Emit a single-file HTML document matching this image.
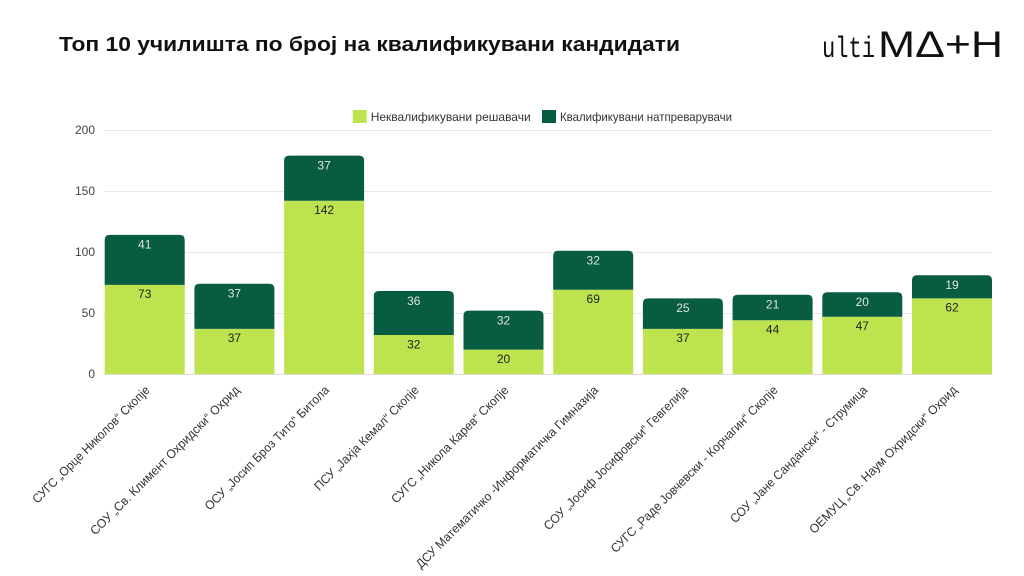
<!DOCTYPE html>
<html>
<head>
<meta charset="utf-8">
<style>
html,body{margin:0;padding:0;background:#fff;}
svg{display:block;}
text{font-family:"Liberation Sans","DejaVu Sans",sans-serif;}
</style>
</head>
<body>
<svg width="1024" height="576" viewBox="0 0 1024 576" xmlns="http://www.w3.org/2000/svg">
<rect width="1024" height="576" fill="#fff"/>
<!-- Title -->
<text x="59" y="51" font-size="20" font-weight="bold" fill="#111" textLength="621" lengthAdjust="spacingAndGlyphs">Топ 10 училишта по број на квалификувани кандидати</text>
<!-- Logo -->
<text x="822" y="57" font-size="30" fill="#111" textLength="53" lengthAdjust="spacingAndGlyphs" style="font-family:'Liberation Mono',monospace">ulti</text>
<text x="878" y="57" font-size="37.5" fill="#111" textLength="125" lengthAdjust="spacingAndGlyphs">MΔ+H</text>

<!-- Legend -->
<rect x="352.7" y="110" width="14" height="13" fill="#bde44f"/>
<text x="370.7" y="121" font-size="12" fill="#333" textLength="160" lengthAdjust="spacingAndGlyphs">Неквалификувани решавачи</text>
<rect x="542" y="110" width="14" height="13" fill="#075c42"/>
<text x="560" y="121" font-size="12" fill="#333" textLength="172" lengthAdjust="spacingAndGlyphs">Квалификувани натпреварувачи</text>

<!-- Gridlines -->
<g stroke="#e8e8e8" stroke-width="1">
<line x1="104" y1="130.5" x2="992" y2="130.5"/>
<line x1="104" y1="191.5" x2="992" y2="191.5"/>
<line x1="104" y1="252.5" x2="992" y2="252.5"/>
<line x1="104" y1="313.5" x2="992" y2="313.5"/>
</g>
<line x1="104" y1="374.5" x2="992" y2="374.5" stroke="#dcdcdc" stroke-width="1"/>

<!-- Y ticks -->
<g font-size="12" fill="#444" text-anchor="end">
<text x="95" y="134">200</text>
<text x="95" y="195">150</text>
<text x="95" y="256">100</text>
<text x="95" y="317">50</text>
<text x="95" y="378">0</text>
</g>

<!-- Bars -->
<g>
<rect x="104.7" y="284.9" width="80" height="89.1" fill="#bde44f"/>
<path d="M104.7,284.9 L104.7,239.9 Q104.7,234.9 109.7,234.9 L179.7,234.9 Q184.7,234.9 184.7,239.9 L184.7,284.9 Z" fill="#075c42"/>
<rect x="194.4" y="328.9" width="80" height="45.1" fill="#bde44f"/>
<path d="M194.4,328.9 L194.4,288.7 Q194.4,283.7 199.4,283.7 L269.4,283.7 Q274.4,283.7 274.4,288.7 L274.4,328.9 Z" fill="#075c42"/>
<rect x="284.1" y="200.8" width="80" height="173.2" fill="#bde44f"/>
<path d="M284.1,200.8 L284.1,160.6 Q284.1,155.6 289.1,155.6 L359.1,155.6 Q364.1,155.6 364.1,160.6 L364.1,200.8 Z" fill="#075c42"/>
<rect x="373.8" y="335" width="80" height="39" fill="#bde44f"/>
<path d="M373.8,335 L373.8,296 Q373.8,291 378.8,291 L448.8,291 Q453.8,291 453.8,296 L453.8,335 Z" fill="#075c42"/>
<rect x="463.5" y="349.6" width="80" height="24.4" fill="#bde44f"/>
<path d="M463.5,349.6 L463.5,315.6 Q463.5,310.6 468.5,310.6 L538.5,310.6 Q543.5,310.6 543.5,315.6 L543.5,349.6 Z" fill="#075c42"/>
<rect x="553.2" y="289.8" width="80" height="84.2" fill="#bde44f"/>
<path d="M553.2,289.8 L553.2,255.8 Q553.2,250.8 558.2,250.8 L628.2,250.8 Q633.2,250.8 633.2,255.8 L633.2,289.8 Z" fill="#075c42"/>
<rect x="642.9" y="328.9" width="80" height="45.1" fill="#bde44f"/>
<path d="M642.9,328.9 L642.9,303.4 Q642.9,298.4 647.9,298.4 L717.9,298.4 Q722.9,298.4 722.9,303.4 L722.9,328.9 Z" fill="#075c42"/>
<rect x="732.6" y="320.3" width="80" height="53.7" fill="#bde44f"/>
<path d="M732.6,320.3 L732.6,299.7 Q732.6,294.7 737.6,294.7 L807.6,294.7 Q812.6,294.7 812.6,299.7 L812.6,320.3 Z" fill="#075c42"/>
<rect x="822.3" y="316.7" width="80" height="57.3" fill="#bde44f"/>
<path d="M822.3,316.7 L822.3,297.3 Q822.3,292.3 827.3,292.3 L897.3,292.3 Q902.3,292.3 902.3,297.3 L902.3,316.7 Z" fill="#075c42"/>
<rect x="912" y="298.4" width="80" height="75.6" fill="#bde44f"/>
<path d="M912,298.4 L912,280.2 Q912,275.2 917,275.2 L987,275.2 Q992,275.2 992,280.2 L992,298.4 Z" fill="#075c42"/>
</g>

<!-- Value labels: dark segments -->
<g font-size="12" fill="#e2e2e2" text-anchor="middle">
<text x="144.7" y="248.7">41</text>
<text x="234.4" y="297.5">37</text>
<text x="324.1" y="169.4">37</text>
<text x="413.8" y="304.8">36</text>
<text x="503.5" y="324.4">32</text>
<text x="593.2" y="264.6">32</text>
<text x="682.9" y="312.2">25</text>
<text x="772.6" y="308.5">21</text>
<text x="862.3" y="306.1">20</text>
<text x="952" y="289">19</text>
</g>
<!-- Value labels: light segments -->
<g font-size="12" fill="#222" text-anchor="middle">
<text x="144.7" y="298.2">73</text>
<text x="234.4" y="342.2">37</text>
<text x="324.1" y="214.1">142</text>
<text x="413.8" y="348.3">32</text>
<text x="503.5" y="362.9">20</text>
<text x="593.2" y="303.1">69</text>
<text x="682.9" y="342.2">37</text>
<text x="772.6" y="333.6">44</text>
<text x="862.3" y="330">47</text>
<text x="952" y="311.7">62</text>
</g>

<!-- X labels -->
<g font-size="12.5" fill="#333" text-anchor="end" dominant-baseline="central">
<text transform="translate(147.7,388) rotate(-45)" textLength="160" lengthAdjust="spacingAndGlyphs">СУГС „Орце Николов“ Скопје</text>
<text transform="translate(237.4,388) rotate(-45)" textLength="205" lengthAdjust="spacingAndGlyphs">СОУ „Св. Климент Охридски“ Охрид</text>
<text transform="translate(327.1,388) rotate(-45)" textLength="170" lengthAdjust="spacingAndGlyphs">ОСУ „Јосип Броз Тито“ Битола</text>
<text transform="translate(416.8,388) rotate(-45)" textLength="142" lengthAdjust="spacingAndGlyphs">ПСУ „Јахја Кемал“ Скопје</text>
<text transform="translate(506.5,388) rotate(-45)" textLength="160" lengthAdjust="spacingAndGlyphs">СУГС „Никола Карев“ Скопје</text>
<text transform="translate(596.2,388) rotate(-45)" textLength="252" lengthAdjust="spacingAndGlyphs">ДСУ Математичко -Информатичка Гимназија</text>
<text transform="translate(685.9,388) rotate(-45)" textLength="198" lengthAdjust="spacingAndGlyphs">СОУ „Јосиф Јосифовски“ Гевгелија</text>
<text transform="translate(775.6,388) rotate(-45)" textLength="230" lengthAdjust="spacingAndGlyphs">СУГС „Раде Јовчевски - Корчагин“ Скопје</text>
<text transform="translate(865.3,388) rotate(-45)" textLength="188" lengthAdjust="spacingAndGlyphs">СОУ „Јане Сандански“ - Струмица</text>
<text transform="translate(955,388) rotate(-45)" textLength="203" lengthAdjust="spacingAndGlyphs">ОЕМУЦ „Св. Наум Охридски“ Охрид</text>
</g>
</svg>
</body>
</html>
